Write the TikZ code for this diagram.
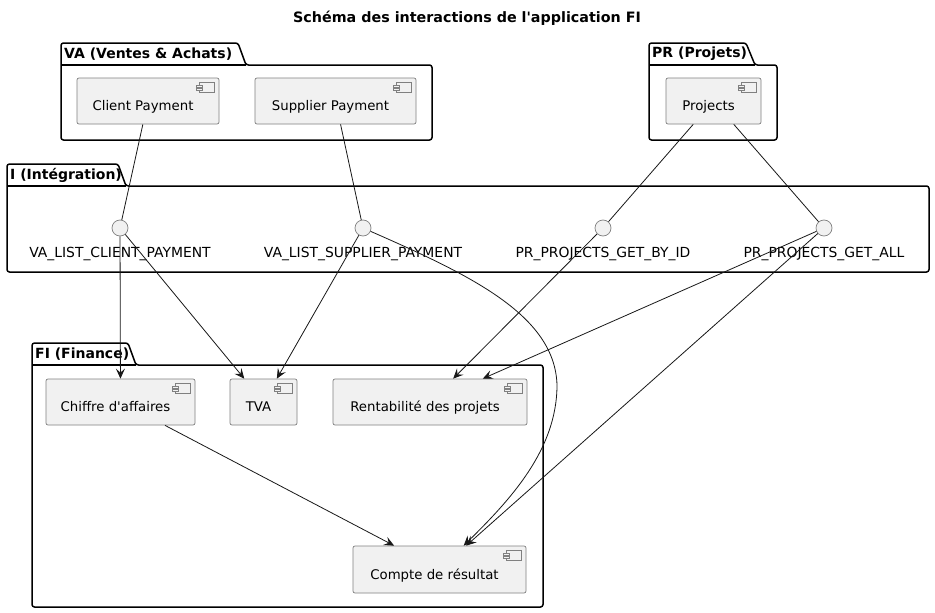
\documentclass[tikz,border=0pt]{standalone}
\usepackage{fontspec}
\setmainfont{DejaVu Sans}
\usepackage{tikz}
\usetikzlibrary{positioning}
\usetikzlibrary{arrows.meta}

\definecolor{compfill}{HTML}{F1F1F1}
\definecolor{linecol}{HTML}{181818}

\newcommand{\compicon}[1]{%
  \draw[icon] ([shift={(-20,5)}]#1.north east) rectangle ([shift={(-5,15)}]#1.north east);
  \draw[icon] ([shift={(-23,7.5)}]#1.north east) rectangle ([shift={(-17,9.5)}]#1.north east);
  \draw[icon] ([shift={(-23,11)}]#1.north east) rectangle ([shift={(-17,13)}]#1.north east);
}

\begin{document}
\begin{tikzpicture}[
  x=1pt, y=-1pt,
  node distance=10.5pt,
  font=\fontsize{13.3}{15}\selectfont,
  comp/.style={draw=black!50,line width=0.7pt,fill=compfill,rounded corners=2pt,minimum height=46pt,text height=19pt,text depth=0pt,execute at end node=\hspace{10pt}},
  iface/.style={draw=black!50,line width=0.7pt,fill=compfill,circle,minimum size=16pt,inner sep=0pt},
  ilabel/.style={inner sep=0pt,anchor=north,font=\fontsize{13.9}{15}\selectfont},
  pkg/.style={draw=black,line width=1.5pt,rounded corners=2.5pt},
  pkgtitle/.style={font=\fontsize{14}{16}\selectfont\bfseries,anchor=west,inner sep=0pt},
  icon/.style={draw=black!50,line width=0.6pt,fill=compfill},
  link/.style={draw=linecol,line width=0.8pt},
  flow/.style={link,-{Stealth[length=10pt,width=9pt,inset=4pt]}}
]
  \useasboundingbox[fill=white] (0,0) rectangle (935,613);

  \node[font=\fontsize{14.3}{16}\selectfont\bfseries] (title) at (467,18) {Schéma des interactions de l\textquotesingle application FI};

  % packages
  \draw[pkg] (61,140) |- (238,43) -- (246,65) -| (432,140) -- cycle;
  \draw[pkg] (61,65) -- (246,65);
  \node[pkgtitle] (vat) at (64,54) {VA (Ventes \& Achats)};

  \draw[pkg] (649,140) |- (746,43) -- (755,65) -| (777,140) -- cycle;
  \draw[pkg] (649,65) -- (755,65);
  \node[pkgtitle] (prt) at (652,54) {PR (Projets)};

  \draw[pkg] (7,272) |- (118,164) -- (126,186) -| (929,272) -- cycle;
  \draw[pkg] (7,186) -- (126,186);
  \node[pkgtitle] (it) at (10,175) {I (Intégration)};

  \draw[pkg] (32,607) |- (128,343) -- (136,365) -| (543,607) -- cycle;
  \draw[pkg] (32,365) -- (136,365);
  \node[pkgtitle] (fit) at (35,354) {FI (Finance)};

  % components
  \node[comp, minimum width=142pt] (cp) at (148,101) {Client Payment};
  \node[comp, minimum width=161pt] (sp) at (335.5,101) {Supplier Payment};
  \node[comp, minimum width=95pt] (proj) at (713.5,101) {Projects};
  \node[comp, minimum width=149pt] (ca) at (120.5,402) {Chiffre d\textquotesingle affaires};
  \node[comp, minimum width=67pt] (tva) at (263.5,402) {TVA};
  \node[comp, minimum width=194pt] (rp) at (430,402) {Rentabilité des projets};
  \node[comp, minimum width=173pt, minimum height=47pt] (cr) at (439.5,569.5) {Compte de résultat};
  \foreach \n in {cp,sp,proj,ca,tva,rp,cr} {\compicon{\n}}

  % interfaces
  \node[iface] (vacp) at (120,228) {};
  \node[iface] (vasp) at (363,228) {};
  \node[iface] (prid) at (603,228) {};
  \node[iface] (prall) at (824,228) {};
  \node[ilabel, below=of vacp] (vacpl) {VA\_LIST\_CLIENT\_PAYMENT};
  \node[ilabel, below=of vasp] (vaspl) {VA\_LIST\_SUPPLIER\_PAYMENT};
  \node[ilabel, below=of prid] (pridl) {PR\_PROJECTS\_GET\_BY\_ID};
  \node[ilabel, below=of prall] (pralll) {PR\_PROJECTS\_GET\_ALL};

  \path (cp) edge[link] (vacp)
        (sp) edge[link] (vasp)
        (proj) edge[link] (prid)
        (proj) edge[link] (prall)
  ;
  \path (vacp) edge[flow] (ca)
        (vacp) edge[flow] (tva)
        (vasp) edge[flow] (tva)
        (prid) edge[flow] (rp)
        (prall) edge[flow] (rp)
        (prall) edge[flow] (cr)
        (ca) edge[flow] (cr)
  ;
  \coordinate (bend) at (557,385);
  \draw[flow] (vasp) .. controls (470,275) and (555,315) .. (bend) .. controls (557,450) and (510,500) .. (cr);
\end{tikzpicture}
\end{document}
